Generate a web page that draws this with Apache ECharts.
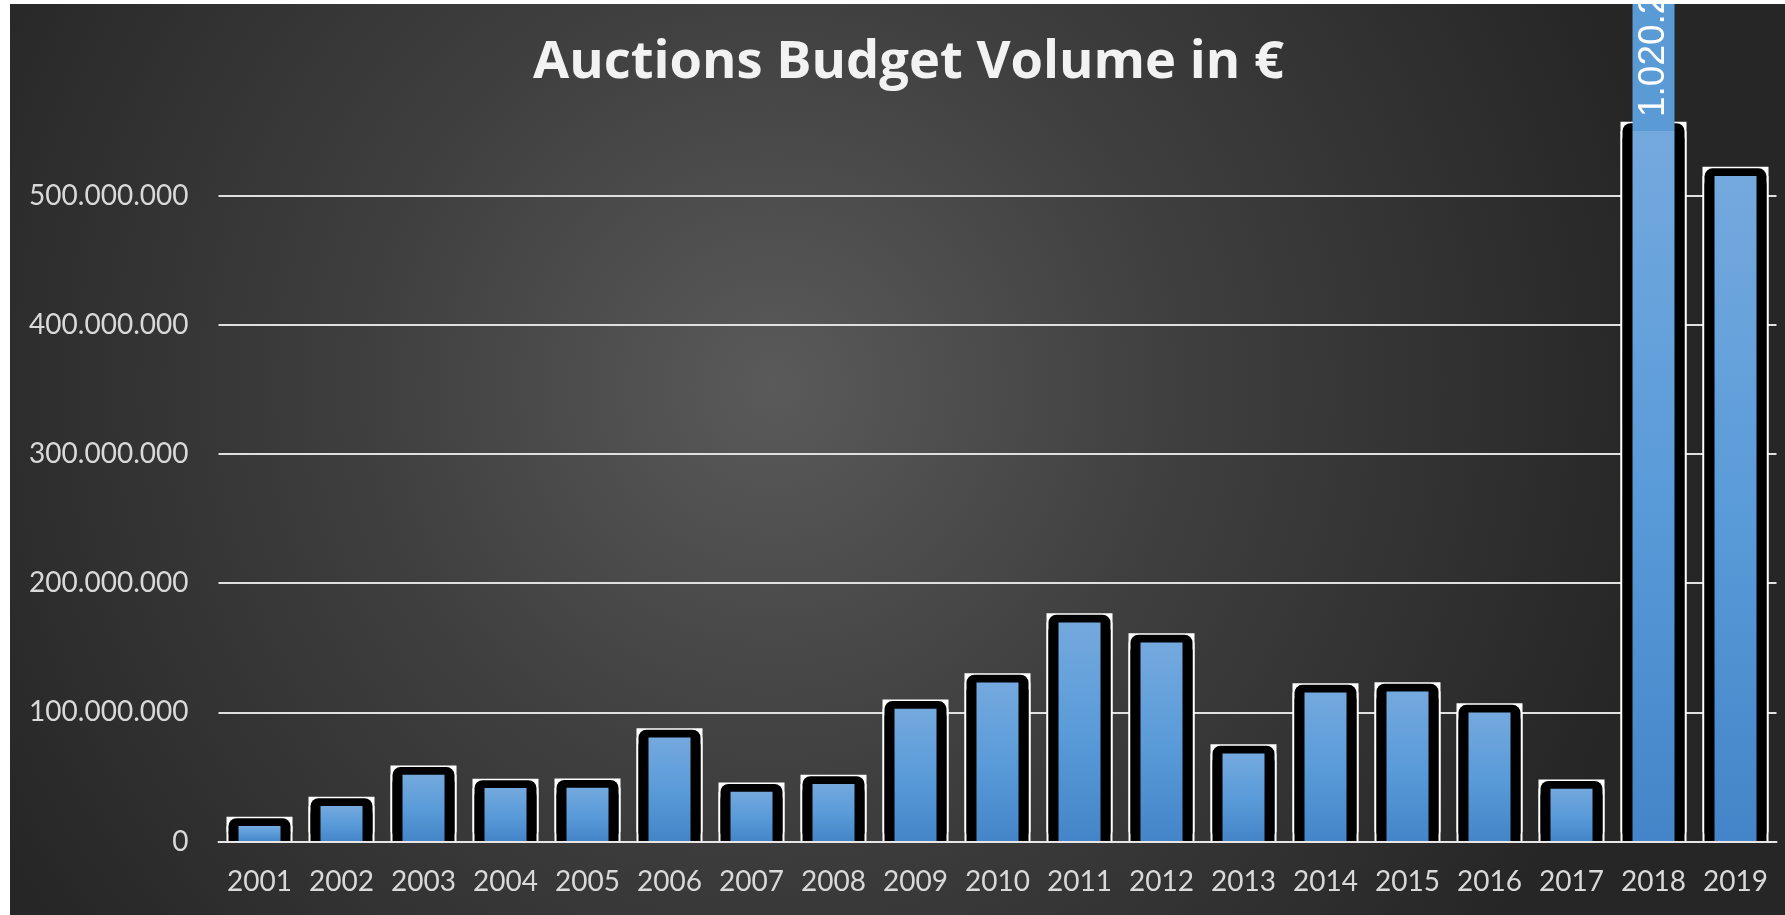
<!DOCTYPE html>
<html>
<head>
<meta charset="utf-8">
<title>Auctions Budget Volume</title>
<script src="https://cdn.jsdelivr.net/npm/echarts@6/dist/echarts.min.js"></script>
<style>
	html, body { margin: 0; padding: 0; background: #ffffff; }
	#budget_chart {
		position: absolute;
		left: 10px;
		top: 4px;
		width: 1775px;
		height: 911px;
		background: radial-gradient(circle 900px at 43% 42%, #5a5a5a 0%, #3f3f3f 45%, #262626 100%);
	}
</style>
</head>
<body>
<div id="budget_chart"></div>
<script>
	// years on the x axis
	let years = ['2001', '2002', '2003', '2004', '2005', '2006', '2007', '2008', '2009', '2010',
		'2011', '2012', '2013', '2014', '2015', '2016', '2017', '2018', '2019'];
	// budget volume per year in euro
	let budgetValues = [12000000, 27500000, 51600000, 41500000, 41700000, 80500000, 38600000, 44600000,
		102700000, 123100000, 169600000, 154100000, 68100000, 115300000, 116100000, 99800000,
		40900000, 1020250000, 515100000];
	// only this year gets a value label (it runs past the axis max)
	let labelledYear = '2018';
	let yTicks = [0, 100000000, 200000000, 300000000, 400000000, 500000000];
	let yMax = 550000000;

	function dotThousands(v) {
		return String(v).replace(/\B(?=(\d{3})+(?!\d))/g, '.');
	}

	// black frame: a black bar whose shadow lifts it above the blue fill
	let frameLift = 7.75;
	let outlineLift = 9.25;

	let frameData = budgetValues.map(function (v, i) {
		if (years[i] !== labelledYear) return v;
		return {
			value: v,
			label: {
				show: true,
				position: 'top',
				distance: 0,
				rotate: 90,
				align: 'left',
				verticalAlign: 'middle',
				color: '#ffffff',
				fontFamily: 'Liberation Sans',
				fontSize: 37,
				lineHeight: 38,
				backgroundColor: '#5b9bd5',
				padding: [2, 10, 2, 14],
				formatter: function (p) { return dotThousands(p.value); }
			}
		};
	});

	let barFill = new echarts.graphic.LinearGradient(0, 0, 0, 1, [
		{ offset: 0, color: '#74a9de' },
		{ offset: 0.5, color: '#5a9bd9' },
		{ offset: 1, color: '#4385c8' }
	]);

	let labelText = {
		color: '#d9d9d9',
		fontFamily: 'Lato',
		fontSize: 28
	};

	// one hidden category axis per layer so every layer is centred on its year
	function layerAxis() {
		return { type: 'category', data: years, show: false };
	}

	let chart = echarts.init(document.getElementById('budget_chart'));
	chart.setOption({
		backgroundColor: 'transparent',
		animation: false,
		title: {
			text: 'Auctions Budget Volume in €',
			left: 518,
			top: 28,
			padding: 5,
			textStyle: {
				color: '#f2f2f2',
				fontFamily: 'Open Sans',
				fontWeight: 'bold',
				fontSize: 52.5
			}
		},
		grid: {
			left: 208.5,
			right: 8.5,
			top: 127,
			bottom: 73.5
		},
		xAxis: [
			{
				type: 'category',
				data: years,
				z: 5,
				axisTick: { show: false },
				axisLine: { lineStyle: { color: '#e6e6e6', width: 2 } },
				axisLabel: Object.assign({ interval: 0, margin: 26 }, labelText)
			},
			layerAxis(),
			layerAxis()
		],
		yAxis: {
			type: 'value',
			min: yTicks[0],
			max: yMax,
			interval: yTicks[1] - yTicks[0],
			axisLine: { show: false },
			axisTick: { show: false },
			axisLabel: Object.assign({
				margin: 30,
				showMaxLabel: false,
				formatter: function (v) {
					return yTicks.indexOf(v) >= 0 ? dotThousands(v) : '';
				}
			}, labelText),
			splitLine: {
				showMaxLine: false,
				lineStyle: { color: '#e0e0e0', width: 2 }
			}
		},
		series: [
			{
				name: 'outline',
				type: 'bar',
				xAxisIndex: 0,
				data: budgetValues,
				barWidth: 66,
				silent: true,
				itemStyle: {
					color: '#ffffff',
					shadowColor: '#ffffff',
					shadowBlur: 0,
					shadowOffsetY: -outlineLift
				}
			},
			{
				name: 'frame',
				type: 'bar',
				xAxisIndex: 1,
				data: frameData,
				barWidth: 62,
				silent: true,
				itemStyle: {
					color: '#000000',
					borderRadius: [8, 8, 0, 0],
					shadowColor: '#000000',
					shadowBlur: 0,
					shadowOffsetY: -frameLift
				}
			},
			{
				name: 'Budget',
				type: 'bar',
				xAxisIndex: 2,
				data: budgetValues,
				barWidth: 42,
				itemStyle: {
					color: barFill
				}
			}
		]
	});

	window.addEventListener('resize', function () {
		chart.resize();
	});
</script>
</body>
</html>
